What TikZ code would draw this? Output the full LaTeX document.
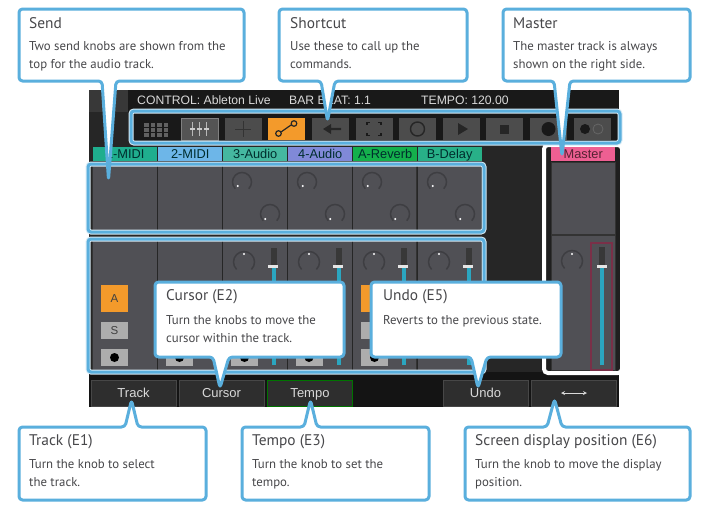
\documentclass[tikz,border=0pt]{standalone}
\usepackage{fontspec}
\setmainfont{PT Sans}
\newfontfamily\screenfont{Liberation Sans}
\usetikzlibrary{positioning}
\definecolor{calloutblue}{HTML}{5AAFDD}
\definecolor{calloutgrey}{HTML}{47474A}
\definecolor{cellgrey}{HTML}{505055}
\definecolor{knobgrey}{HTML}{3E3E42}
\definecolor{btnorange}{HTML}{F39A2B}
\definecolor{faderblue}{HTML}{2BA6C0}
\definecolor{masterpink}{HTML}{EE5F92}
\definecolor{masterred}{HTML}{7A3048}
\tikzset{
	callbox/.style={draw=calloutblue, fill=white, line width=3, rounded corners=3.5, line join=round},
	calltitle/.style={anchor=west, inner sep=0, text=calloutgrey, font=\fontsize{15.4}{18}\selectfont},
	calltext/.style={anchor=north west, inner sep=0, align=left, text=calloutgrey, font=\fontsize{12.8}{18}\selectfont},
	bluebox/.style={draw=calloutblue, line width=3, rounded corners=3, preaction={draw=white!75!calloutblue, line width=5}},
	cell/.style={fill=cellgrey, draw=black!80, line width=0.8},
	screentext/.style={inner sep=0, font=\screenfont\fontsize{12.2}{14}\selectfont, text=white!85!black},
	softkey/.style={draw=white!28!black, fill=black!82, line width=0.8, minimum width=85, minimum height=26, text height=9.3, text depth=0, inner sep=0, font=\screenfont\fontsize{13}{15}\selectfont, text=white!85!black},
	toolbtn/.style={fill=white!30!black},
	tracklabel/.style={minimum width=64, minimum height=14, text height=9.2, text depth=0, inner sep=0, font=\screenfont\fontsize{12.8}{14}\selectfont, text=black!65!teal},
	knobarc/.style={draw=knobgrey, line width=1.5},
	iconline/.style={draw=black!85, line width=1.4}
}
\begin{document}
\begin{tikzpicture}[x=1pt, y=-1pt]
	\useasboundingbox (0,0) rectangle (706,512);
	\fill[white] (0,0) rectangle (706,512);
	% screen
	\fill[black!85] (89,90) rectangle (619,407);
	\fill[white!22!black] (89,90) rectangle (128,112);
	\fill[black!90] (128,90) rectangle (619,112);
	\fill[white!15!black] (89,144) rectangle (542,372);
	\fill[black!92] (89,372) rectangle (619,407);
	\node[screentext, anchor=west] (control) at (137,100) {CONTROL: Ableton Live};
	\node[screentext, anchor=west] (barbeat) at (289,100) {BAR BEAT: 1.1};
	\node[screentext, anchor=west] (tempoval) at (421,100) {TEMPO: 120.00};
	% toolbar
	\fill[black!90] (131,111) rectangle (620,143);
	\foreach \btnx in {224.6,312,355.6,399,443,486,530,573.6}
		\fill[toolbtn] (\btnx,118) rectangle +(37,22);
	\draw[draw=white!50!black, fill=white!33!black, line width=0.8] (181,118) rectangle +(37,22);
	\fill[btnorange] (268,118) rectangle +(37,22);
	\foreach \icx in {144,150.5,157,163.5} \foreach \icy in {123,128,133}
		\fill[white!38!black] (\icx,\icy) rectangle +(4.5,3.5);
	\foreach \icx in {192,199,206} {
		\draw[white!72!black, line width=1] (\icx,122) -- (\icx,136);
		\fill[white!80!black] (\icx-2.5,128) rectangle +(5,2);
	}
	\draw[black!80, line width=1] (235,129) -- (251,129) (243,121) -- (243,137);
	\draw[black!85, line width=1.2] (278.5,133.5) circle (2.8) (281,132) -- (291,125) (294,123.5) circle (2.8);
	\fill[black!85] (323,129) -- (331,124) -- (331,127.8) -- (341,127.8) -- (341,130.2) -- (331,130.2) -- (331,134) -- cycle;
	\draw[black!90, line width=1.6] (367,125) -- (367,122.5) -- (370,122.5) (378,122.5) -- (381,122.5) -- (381,125)
		(381,133) -- (381,135.5) -- (378,135.5) (370,135.5) -- (367,135.5) -- (367,133);
	\draw[iconline] (417.5,129) circle (7);
	\fill[black!85] (458,123) -- (468,129) -- (458,135) -- cycle;
	\fill[black!85] (500,124.5) rectangle (509,133.5);
	\fill[black!90] (548.5,129) circle (7);
	\fill[black!90] (585,129) circle (5);
	\draw[black!60, line width=0.8] (598,129) circle (5);
	% tracks
	\foreach \trk/\trkx/\trkname/\trkcol in {1/93/1-MIDI/1FAE8E, 2/158/2-MIDI/6DB6E8, 3/223/3-Audio/45B8A0, 4/288/4-Audio/8089D8, 5/353/A-Reverb/14B04C, 6/417.5/B-Delay/28B088} {
		\definecolor{trkfill}{HTML}{\trkcol}
		\node[tracklabel, fill=trkfill, anchor=north west] (label\trk) at (\trkx,147) {\trkname};
		\fill[cell] (\trkx-1,165) rectangle +(65,66);
		\fill[cell] (\trkx-1,240) rectangle +(65,131);
	}
	\foreach \cellx in {157,222,287,352,417,482} {
		\draw[black!85, line width=1] (\cellx,165) -- (\cellx,231);
		\draw[black!85, line width=1] (\cellx,240) -- (\cellx,371);
	}
	% knobs and faders
	\foreach \cellx in {222,287,352,417} {
		\draw[knobarc] (\cellx+13.3,188.7) arc (135:405:9.5);
		\fill[white] (\cellx+15.7,186) circle (1.1);
		\draw[knobarc] (\cellx+41.3,220.7) arc (135:405:9.5);
		\fill[white] (\cellx+43.3,219) circle (1.1);
		\draw[knobarc] (\cellx+14.6,269.4) arc (135:405:10.5);
		\fill[white] (\cellx+22,254) circle (1.1);
		\fill[black!78] (\cellx+48.5,248) rectangle +(6,18);
		\fill[faderblue] (\cellx+49.5,266) rectangle +(4,99);
		\fill[white!90!black] (\cellx+46,264.5) rectangle +(10,3);
	}
	% track buttons
	\foreach \btnx in {101,166,231,295.5,361} {
		\fill[btnorange] (\btnx,285) rectangle +(27,27);
		\fill[white!68!black] (\btnx,322) rectangle +(27,17);
		\fill[white!68!black] (\btnx,349) rectangle +(27,17);
		\fill[black] (\btnx+13.5,357.5) circle (4.5);
	}
	\node[inner sep=0, font=\screenfont\fontsize{11.5}{13}\selectfont, text=black!75] (abtn) at (114.5,298.5) {A};
	\node[inner sep=0, font=\screenfont\fontsize{11.5}{13}\selectfont, text=black!75] (sbtn) at (114.5,330.5) {S};
	% master
	\fill[black!88] (544,145) rectangle (620,373);
	\draw[white, line width=4, rounded corners=4] (622,145) -- (544,145) -- (544,373) -- (622,373) -- cycle;
	\node[tracklabel, fill=masterpink, text=masterred!70!black, anchor=north west] (masterlabel) at (551,147) {Master};
	\fill[cell] (551,162.5) rectangle (615,234);
	\fill[cell] (551,235) rectangle (615,370);
	\draw[knobarc] (564.6,268.4) arc (135:405:10.5);
	\fill[white] (572,254) circle (1.1);
	\draw[draw=masterred, line width=1.6] (591,243) rectangle (612,370);
	\fill[black!78] (599,247) rectangle +(6,19);
	\fill[faderblue] (600,266) rectangle +(4,99);
	\fill[white!90!black] (597,264.5) rectangle +(10,3);
	% blue boxes
	\draw[bluebox] (131,111) rectangle (620,143);
	\draw[bluebox] (88,164) rectangle (484,232);
	\draw[bluebox] (88,239) rectangle (484,372);
	% soft keys
	\node[softkey] (trackkey) at (133.5,393) {Track};
	\node[softkey] (cursorkey) at (221.5,393) {Cursor};
	\node[softkey, draw=green!45!black] (tempokey) at (310,393) {Tempo};
	\node[softkey] (undokey) at (485.5,393) {Undo};
	\node[softkey] (movekey) at (574,393) {};
	\draw[<->, >=stealth, white!85!black, line width=0.8] ([xshift=-13]movekey.center) -- ([xshift=13]movekey.center);
	% callouts
	\draw[callbox] (19,9) -- (244,9) -- (244,81) -- (116,81) -- (108.5,180) -- (102,81) -- (19,81) -- cycle;
	\node[calltitle] (sendtitle) at (29,23) {Send};
	\node[calltext] (sendtext) at (29,41) {Two send knobs are shown from the\\top for the audio track.};
	\draw[callbox] (279,9) -- (467,9) -- (467,81) -- (335,81) -- (327.5,121) -- (321,81) -- (279,81) -- cycle;
	\node[calltitle] (shorttitle) at (290,23) {Shortcut};
	\node[calltext] (shorttext) at (290,41) {Use these to call up the\\commands.};
	\draw[callbox] (503,9) -- (690,9) -- (690,81) -- (570,81) -- (562,156) -- (554,81) -- (503,81) -- cycle;
	\node[calltitle] (mastertitle) at (513,23) {Master};
	\node[calltext] (mastertext) at (513,41) {The master track is always\\shown on the right side.};
	\draw[callbox] (155,282) -- (344,282) -- (344,357) -- (229,357) -- (220,388) -- (213,357) -- (155,357) -- cycle;
	\node[calltitle] (cursortitle) at (166,297) {Cursor (E2)};
	\node[calltext] (cursortext) at (166,315) {Turn the knobs to move the\\cursor within the track.};
	\draw[callbox] (371,282) -- (561,282) -- (561,357) -- (487,357) -- (478,388) -- (471,357) -- (371,357) -- cycle;
	\node[calltitle] (undotitle) at (383,297) {Undo (E5)};
	\node[calltext] (undotext) at (383,315) {Reverts to the previous state.};
	\draw[callbox] (19,427) -- (125,427) -- (131.5,400) -- (138,427) -- (206,427) -- (206,500) -- (19,500) -- cycle;
	\node[calltitle] (tracktitle) at (29,442) {Track (E1)};
	\node[calltext] (tracktext) at (29,459) {Turn the knob to select\\the track.};
	\draw[callbox] (242,427) -- (304,427) -- (310.5,400) -- (317,427) -- (429,427) -- (429,500) -- (242,500) -- cycle;
	\node[calltitle] (tempotitle) at (252,442) {Tempo (E3)};
	\node[calltext] (tempotext) at (252,459) {Turn the knob to set the\\tempo.};
	\draw[callbox] (465,427) -- (547,427) -- (554.5,399) -- (562,427) -- (690,427) -- (690,500) -- (465,500) -- cycle;
	\node[calltitle] (screentitle) at (475,442) {Screen display position (E6)};
	\node[calltext] (screentext) at (475,459) {Turn the knob to move the display\\position.};
\end{tikzpicture}
\end{document}
